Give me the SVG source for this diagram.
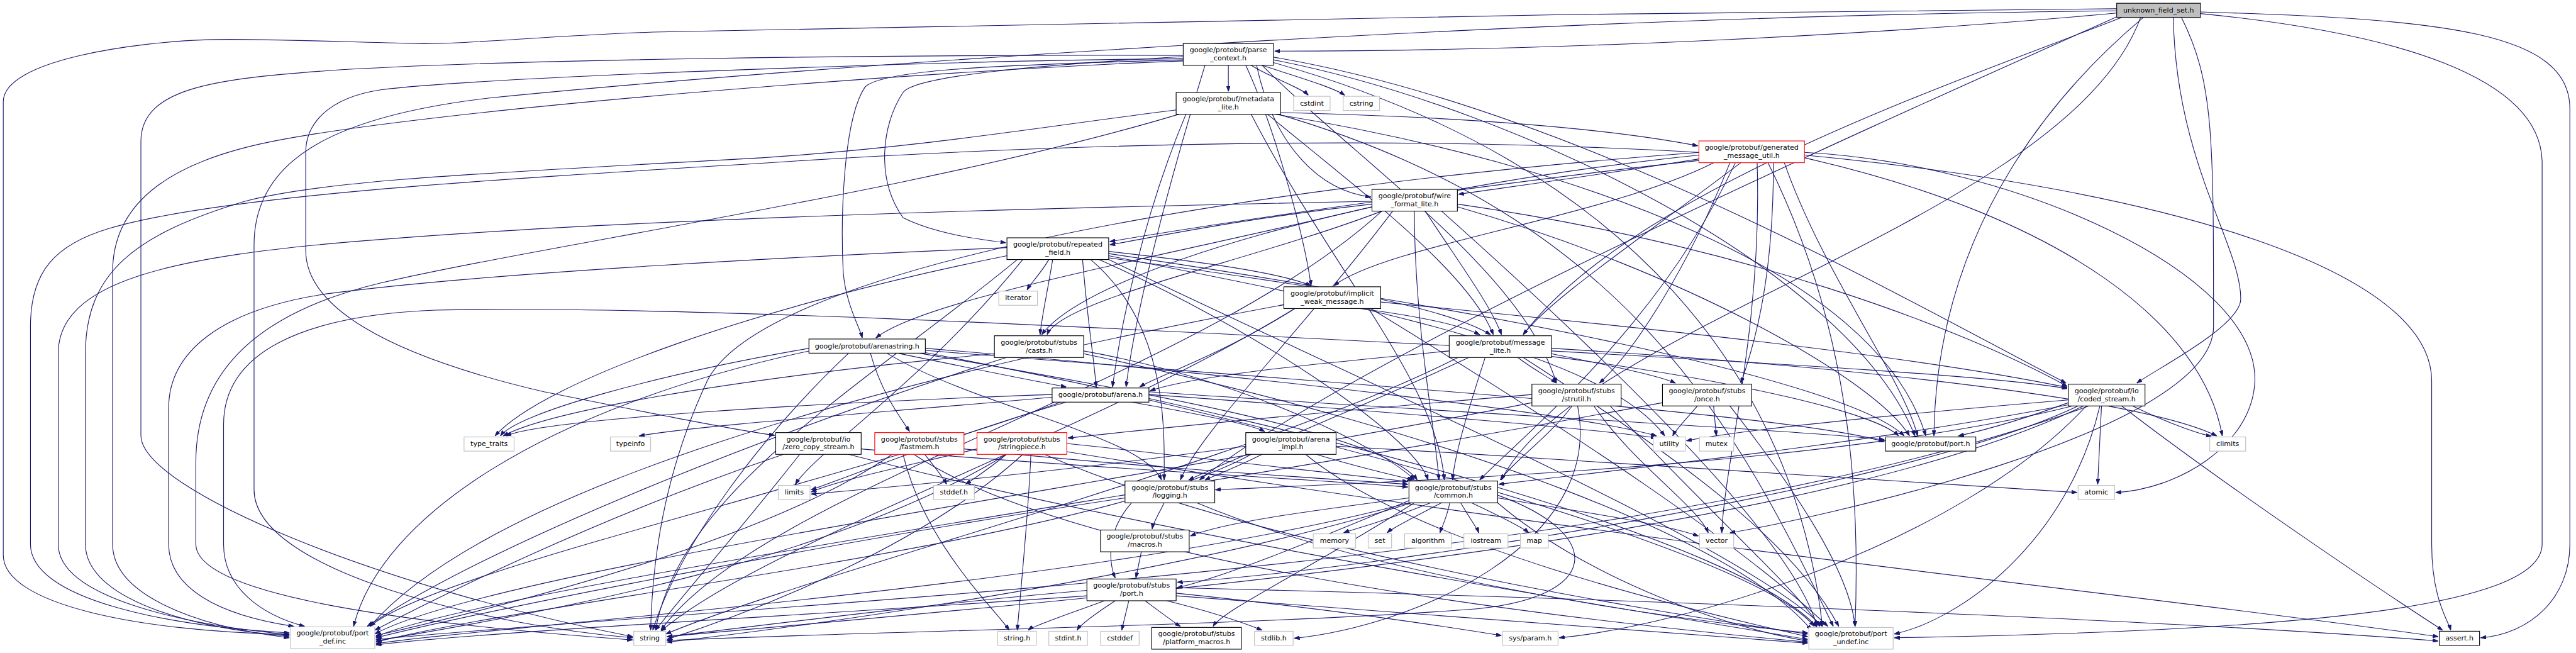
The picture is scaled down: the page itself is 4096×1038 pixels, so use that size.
<svg xmlns="http://www.w3.org/2000/svg" width="4096" height="1038" viewBox="0 0 4096 1038">
<defs>
<style>
.e{fill:none;stroke:#191970;stroke-width:1.3;marker-end:url(#a)}
.n rect{fill:#fff;stroke:#000;stroke-width:1.3}
.u rect{stroke:#bfbfbf}
.r rect{stroke:#ff0000}
.root rect{fill:#bfbfbf}
text{font-family:"DejaVu Sans","Liberation Sans",sans-serif;font-size:12.8px;text-anchor:middle;fill:#000}
</style>
<marker id="a" markerWidth="10" markerHeight="7" refX="10" refY="3.5" orient="auto" markerUnits="userSpaceOnUse"><path d="M0,0 L10,3.5 L0,7 z" fill="#191970" stroke="#191970" stroke-width="1"/></marker>
</defs>
<rect x="0" y="0" width="4096" height="1038" fill="#fff"/>
<g transform="scale(0.865)">
<g id="edges">
<!-- root -->
<path class="e" d="M3891,24 C3500,60 2900,94 2343,94"/>
<path class="e" d="M3891,16 C3000,22 1600,45 1200,59 C1000,66 850,82 765,80 C600,76 450,70 383,73 C250,77 6,110 6,187 L6,1020 C6,1110 250,1160 532,1166"/>
<path class="e" d="M3891,20 C2800,30 1500,120 900,180 C600,215 467,300 467,450 L467,900 C467,1050 900,1150 1163,1172"/>
<path class="e" d="M3935,32 C3800,400 2900,600 2760,882"/>
<path class="e" d="M3893,30 C3400,250 2500,650 2205,882"/>
<path class="e" d="M3995,32 C4000,300 4119,450 4119,549 C4119,600 3960,680 3928,704"/>
<path class="e" d="M3900,32 C3600,150 3000,350 2800,615"/>
<path class="e" d="M3940,32 C3800,150 3560,400 3555,801"/>
<path class="e" d="M4010,32 C4069,150 4069,250 4069,600 C4069,800 3300,960 3180,979"/>
<path class="e" d="M4045,22 C4500,35 4724,60 4724,200 L4724,1000 C4724,1100 4650,1165 4560,1172"/>
<path class="e" d="M4045,25 C4400,60 4673,140 4673,300 L4673,1000 C4673,1120 4200,1160 3482,1172"/>
<!-- parse -->
<path class="e" d="M2258,120 L2258,168"/>
<path class="e" d="M2300,120 C2330,140 2390,160 2405,175"/>
<path class="e" d="M2320,120 C2380,140 2450,160 2472,175"/>
<path class="e" d="M2175,104 C1900,120 1680,140 1660,170 C1620,230 1610,330 1660,400 C1720,430 1800,440 1849,446"/>
<path class="e" d="M2175,102 C1600,100 900,110 600,130 C400,145 259,160 259,260 L259,800 C259,900 700,1080 1163,1170"/>
<path class="e" d="M2175,108 C1800,110 900,140 700,165 C600,180 562,230 562,280 L562,460 C562,560 700,650 1000,720 C1200,760 1350,790 1424,800"/>
<path class="e" d="M2215,120 C2160,300 2090,550 2070,711"/>
<path class="e" d="M2175,110 C1800,120 1620,130 1590,160 C1550,220 1545,400 1550,500 C1555,560 1580,600 1585,621"/>
<path class="e" d="M2290,120 C2350,250 2400,450 2410,525"/>
<path class="e" d="M2310,120 C2340,260 2420,350 2520,362"/>
<path class="e" d="M2341,105 C2900,200 3500,550 3798,704"/>
<path class="e" d="M2320,120 C2500,300 2800,500 2861,704"/>
<path class="e" d="M2341,110 C2800,200 3400,500 3520,801"/>
<path class="e" d="M2175,112 C1700,130 800,200 500,260 C300,300 207,380 207,500 L207,1000 C207,1090 350,1150 532,1172"/>
<path class="e" d="M2341,115 C3000,300 3300,700 3350,1151"/>
<!-- meta -->
<path class="e" d="M2354,207 C2700,215 2950,235 3121,268"/>
<path class="e" d="M2162,202 C1900,235 1700,270 1400,290 C900,318 600,330 450,370 C250,430 157,500 157,650 L157,1000 C157,1100 350,1155 532,1169"/>
<path class="e" d="M2300,210 C2450,500 2640,700 2655,882"/>
<path class="e" d="M2180,210 C2100,400 2060,600 2045,711"/>
<path class="e" d="M2330,210 C2500,350 2700,500 2745,615"/>
<path class="e" d="M2345,210 C2900,300 3450,500 3540,801"/>
<path class="e" d="M2350,210 C3000,400 3200,800 3370,1151"/>
<path class="e" d="M2167,210 C1700,350 1000,450 700,520 C450,580 360,700 360,850 L360,1000 C360,1100 800,1150 1163,1176"/>
<!-- gmu -->
<path class="e" d="M3123,292 C2950,320 2800,340 2681,357"/>
<path class="e" d="M3123,295 C2800,330 2300,400 2040,444"/>
<path class="e" d="M3150,299 C2950,400 2550,450 2452,525"/>
<path class="e" d="M3200,299 C3000,450 2850,550 2800,615"/>
<path class="e" d="M3260,299 C3260,500 3230,620 3200,704"/>
<path class="e" d="M3180,299 C3100,500 3000,650 2940,704"/>
<path class="e" d="M3123,285 C2500,350 2000,500 1915,615"/>
<path class="e" d="M3280,299 C3350,500 3500,700 3525,801"/>
<path class="e" d="M3190,299 C3050,600 2800,800 2720,882"/>
<path class="e" d="M3230,299 C3240,600 3170,850 3165,979"/>
<path class="e" d="M3317,290 C3800,400 4050,600 4085,801"/>
<path class="e" d="M3317,280 C3700,300 4150,500 4145,700 C4140,820 4000,900 3889,905"/>
<path class="e" d="M3317,285 C4000,350 4470,500 4470,700 L4470,1000 C4470,1100 4500,1140 4505,1158"/>
<path class="e" d="M3123,280 C2200,350 1400,500 1300,700 C1230,850 1200,1000 1196,1158"/>
<path class="e" d="M3123,280 C2600,250 2000,260 1400,300 C900,330 400,360 200,420 C100,450 56,500 56,600 L56,1000 C56,1100 300,1150 532,1163"/>
<path class="e" d="M3250,299 C3400,600 3420,900 3410,1151"/>
<!-- wfl -->
<path class="e" d="M2522,375 C2300,400 2150,430 2040,450"/>
<path class="e" d="M2620,388 C2680,480 2740,560 2760,615"/>
<path class="e" d="M2679,375 C3200,450 3600,600 3800,710"/>
<path class="e" d="M2600,388 C2600,600 2640,800 2645,882"/>
<path class="e" d="M2560,388 C2400,600 2200,800 2170,882"/>
<path class="e" d="M2522,380 C2100,480 1700,550 1610,621"/>
<path class="e" d="M2540,388 C2300,480 1950,550 1925,615"/>
<path class="e" d="M2679,380 C3100,500 3450,700 3510,801"/>
<path class="e" d="M2540,388 C2200,700 1400,900 1215,1158"/>
<path class="e" d="M2522,370 C2000,380 1200,400 700,440 C300,470 107,520 107,650 L107,1000 C107,1100 350,1150 532,1166"/>
<path class="e" d="M2650,388 C3000,700 3300,1000 3340,1151"/>
<!-- rf -->
<path class="e" d="M1928,477 C1915,500 1895,520 1888,533"/>
<path class="e" d="M2038,462 C2200,480 2350,500 2410,525"/>
<path class="e" d="M2038,466 C2400,520 2650,560 2740,615"/>
<path class="e" d="M1990,477 C2000,600 2010,650 2015,711"/>
<path class="e" d="M1935,477 C1925,540 1915,580 1912,615"/>
<path class="e" d="M2005,477 C2150,600 2140,800 2140,882"/>
<path class="e" d="M2020,477 C2300,600 2600,800 2625,882"/>
<path class="e" d="M2038,470 C2500,560 2950,650 3060,801"/>
<path class="e" d="M2038,474 C2700,560 3400,700 3500,801"/>
<path class="e" d="M1880,477 C1700,700 1500,830 1462,890"/>
<path class="e" d="M1851,470 C1400,560 1000,700 910,801"/>
<path class="e" d="M1870,477 C1600,700 1250,900 1205,1158"/>
<path class="e" d="M1851,455 C1500,470 900,500 600,540 C400,570 310,650 310,750 L310,1000 C310,1080 400,1130 540,1151"/>
<path class="e" d="M2038,477 C2500,700 3200,1000 3350,1151"/>
<!-- iwm -->
<path class="e" d="M2380,567 C2250,650 2130,690 2095,711"/>
<path class="e" d="M2500,567 C2600,580 2680,595 2720,615"/>
<path class="e" d="M2538,555 C3000,600 3500,650 3800,712"/>
<path class="e" d="M2380,567 C2000,800 1400,1000 1215,1160"/>
<path class="e" d="M2360,560 C1600,700 900,900 680,1151"/>
<path class="e" d="M2520,567 C2900,800 3200,1000 3360,1151"/>
<!-- arenastring -->
<path class="e" d="M1600,649 C1620,720 1650,760 1672,793"/>
<path class="e" d="M1650,649 C1800,680 1900,700 1960,711"/>
<path class="e" d="M1630,649 C1800,750 2100,800 2135,882"/>
<path class="e" d="M1690,649 C2100,720 2550,800 2605,882"/>
<path class="e" d="M1701,640 C2300,690 2900,760 3045,801"/>
<path class="e" d="M1701,644 C2400,700 3300,760 3464,812"/>
<path class="e" d="M1487,640 C1200,690 950,760 920,801"/>
<path class="e" d="M1560,649 C1400,800 1250,1000 1200,1158"/>
<path class="e" d="M1487,645 C1000,750 700,950 650,1151"/>
<path class="e" d="M1701,648 C2500,800 3200,1000 3340,1152"/>
<!-- casts -->
<path class="e" d="M1992,645 C2300,700 2550,830 2600,882"/>
<path class="e" d="M1828,650 C1300,700 1000,760 925,801"/>
<path class="e" d="M1850,657 C1400,800 900,1000 675,1151"/>
<path class="e" d="M1992,650 C2700,800 3200,1000 3330,1158"/>
<!-- message_lite -->
<path class="e" d="M2664,645 C2400,670 2200,690 2114,718"/>
<path class="e" d="M2790,657 C2820,680 2850,695 2861,704"/>
<path class="e" d="M2852,650 C2950,670 3050,690 3080,704"/>
<path class="e" d="M2852,645 C3300,670 3650,690 3800,714"/>
<path class="e" d="M2852,640 C3500,680 3950,740 4075,801"/>
<path class="e" d="M2730,657 C2700,750 2675,830 2670,882"/>
<path class="e" d="M2700,657 C2500,750 2250,850 2185,882"/>
<path class="e" d="M2852,655 C3200,700 3450,760 3490,801"/>
<path class="e" d="M2680,657 C2300,850 1500,1050 1224,1165"/>
<path class="e" d="M2664,635 C2000,600 1200,560 800,570 C550,580 411,650 411,780 L411,1000 C411,1080 480,1130 560,1151"/>
<path class="e" d="M2800,657 C3100,850 3300,1000 3380,1151"/>
<!-- arena -->
<path class="e" d="M2080,739 C2200,760 2300,780 2325,793"/>
<path class="e" d="M1960,739 C1750,800 1550,880 1491,900"/>
<path class="e" d="M1934,730 C1600,760 1300,780 1175,801"/>
<path class="e" d="M1934,725 C1500,740 1000,770 930,801"/>
<path class="e" d="M2112,725 C2600,760 2950,790 3045,805"/>
<path class="e" d="M2112,720 C2700,760 3300,790 3464,808"/>
<path class="e" d="M1950,739 C1500,900 800,1050 680,1151"/>
<path class="e" d="M2112,735 C2800,900 3250,1050 3335,1151"/>
<!-- strutil -->
<path class="e" d="M2816,725 C2400,760 2100,790 1963,805"/>
<path class="e" d="M2890,746 C2850,800 2780,850 2758,882"/>
<path class="e" d="M2930,746 C3000,850 3120,930 3140,979"/>
<path class="e" d="M2900,746 C2950,1000 2600,1150 2379,1173"/>
<path class="e" d="M2816,740 C2000,900 900,1050 689,1165"/>
<path class="e" d="M2960,746 C3150,950 3300,1080 3345,1151"/>
<!-- once -->
<path class="e" d="M3120,746 C3100,770 3080,790 3075,801"/>
<path class="e" d="M3150,746 C3152,770 3154,790 3155,801"/>
<path class="e" d="M3056,740 C2200,900 900,1080 691,1170"/>
<path class="e" d="M3180,746 C3300,900 3400,1050 3410,1151"/>
<!-- coded -->
<path class="e" d="M3863,746 L3856,890"/>
<path class="e" d="M3920,746 C3990,780 4050,800 4065,801"/>
<path class="e" d="M3802,740 C3720,770 3650,790 3600,801"/>
<path class="e" d="M3900,746 C4100,900 4400,1100 4490,1158"/>
<path class="e" d="M3802,744 C3400,820 3000,860 2755,890"/>
<path class="e" d="M3810,746 C3400,850 2700,880 2234,900"/>
<path class="e" d="M3820,746 C3500,900 2500,1050 2164,1070"/>
<path class="e" d="M3830,746 C3300,1000 2000,1100 1226,1170"/>
<path class="e" d="M3840,746 C3000,1050 1500,1100 691,1175"/>
<path class="e" d="M3860,746 C3800,1000 3600,1140 3482,1165"/>
<path class="e" d="M3835,746 C3600,1000 3100,1150 2866,1172"/>
<path class="e" d="M3802,735 C3500,760 3200,790 3100,810"/>
<!-- arena_impl -->
<path class="e" d="M2456,820 C3000,850 3600,890 3818,905"/>
<path class="e" d="M2290,820 C2000,860 1700,890 1491,908"/>
<path class="e" d="M2320,835 C2270,860 2230,875 2215,882"/>
<path class="e" d="M2420,835 C2500,860 2570,875 2597,882"/>
<path class="e" d="M2300,835 C2000,1000 1000,1100 691,1180"/>
<path class="e" d="M2400,835 C2600,1000 3100,1120 3323,1170"/>
<!-- zcs -->
<path class="e" d="M1583,825 C2000,860 2400,880 2588,895"/>
<path class="e" d="M1470,835 C1380,950 1250,1100 1205,1158"/>
<path class="e" d="M1440,835 C1100,950 800,1100 689,1158"/>
<path class="e" d="M1560,835 C2200,1000 3000,1120 3323,1175"/>
<!-- fastmem -->
<path class="e" d="M1700,835 C1720,860 1735,880 1740,890"/>
<path class="e" d="M1660,835 C1700,1000 1830,1120 1855,1158"/>
<path class="e" d="M1772,825 C2100,860 2450,880 2588,890"/>
<path class="e" d="M1640,835 C1400,1000 900,1120 691,1168"/>
<path class="e" d="M1680,835 C2000,1050 3000,1150 3323,1180"/>
<!-- stringpiece -->
<path class="e" d="M1850,835 C1820,860 1790,880 1775,890"/>
<path class="e" d="M1796,825 C1650,860 1550,880 1491,904"/>
<path class="e" d="M1895,835 C1890,950 1875,1100 1870,1158"/>
<path class="e" d="M1880,835 C1700,1000 1400,1120 1226,1175"/>
<path class="e" d="M1961,815 C2200,840 2450,870 2588,885"/>
<path class="e" d="M1961,830 C3000,1000 4000,1100 4482,1170"/>
<path class="e" d="M1850,835 C1500,1050 900,1140 691,1178"/>
<path class="e" d="M1920,835 C2300,1000 3000,1120 3323,1165"/>
<!-- logging -->
<path class="e" d="M2140,924 C2130,945 2120,960 2118,972"/>
<path class="e" d="M2080,924 C2030,980 2040,1040 2050,1062"/>
<path class="e" d="M2068,915 C1500,1000 900,1120 691,1172"/>
<path class="e" d="M2200,924 C2500,1050 3000,1130 3323,1163"/>
<!-- common -->
<path class="e" d="M2630,924 C2540,960 2480,975 2470,979"/>
<path class="e" d="M2650,924 C2600,950 2560,970 2550,979"/>
<path class="e" d="M2665,924 C2660,950 2650,970 2647,979"/>
<path class="e" d="M2685,924 C2700,950 2715,970 2718,979"/>
<path class="e" d="M2705,924 C2760,950 2800,970 2810,979"/>
<path class="e" d="M2753,915 C2900,940 3050,960 3122,985"/>
<path class="e" d="M2590,915 C2400,940 2250,960 2188,985"/>
<path class="e" d="M2600,924 C2400,1050 2250,1120 2230,1151"/>
<path class="e" d="M2590,920 C2400,1000 2250,1060 2164,1080"/>
<path class="e" d="M2595,924 C2200,1050 1500,1150 1226,1180"/>
<path class="e" d="M2590,924 C2000,1080 900,1150 691,1183"/>
<path class="e" d="M2753,924 C2900,1050 3150,1150 3323,1178"/>
<path class="e" d="M2753,910 C2950,980 2950,1100 2700,1120 C2300,1150 1600,1160 1226,1177"/>
<!-- macros -->
<path class="e" d="M2098,1014 L2088,1062"/>
<!-- stubs port -->
<path class="e" d="M2030,1104 C1960,1130 1900,1150 1890,1158"/>
<path class="e" d="M2050,1104 C2010,1130 1985,1150 1980,1158"/>
<path class="e" d="M2075,1104 L2062,1158"/>
<path class="e" d="M2105,1104 C2140,1130 2160,1145 2170,1151"/>
<path class="e" d="M2145,1104 C2250,1130 2300,1150 2320,1158"/>
<path class="e" d="M2162,1090 C2450,1120 2650,1150 2760,1168"/>
<path class="e" d="M1998,1085 C1700,1110 1400,1150 1226,1170"/>
<path class="e" d="M1998,1095 C1500,1130 900,1160 691,1185"/>
<path class="e" d="M2162,1095 C2600,1130 3000,1160 3323,1182"/>
<path class="e" d="M2162,1080 C3000,1100 4000,1140 4482,1178"/>
</g>
<g id="node-root" class="n root"><rect x="3891" y="6" width="154" height="26"/><text x="3968" y="23">unknown_field_set.h</text></g>
<g id="node-parse" class="n"><rect x="2175" y="80" width="166" height="40"/><text x="2258" y="96">google/protobuf/parse</text><text x="2258" y="111">_context.h</text></g>
<g id="node-metadata" class="n"><rect x="2162" y="170" width="192" height="40"/><text x="2258" y="186">google/protobuf/metadata</text><text x="2258" y="201">_lite.h</text></g>
<g id="node-cstdint" class="n u"><rect x="2378" y="177" width="67" height="26"/><text x="2411.5" y="194">cstdint</text></g>
<g id="node-cstring" class="n u"><rect x="2469" y="177" width="67" height="26"/><text x="2502.5" y="194">cstring</text></g>
<g id="node-gmu" class="n r"><rect x="3123" y="259" width="194" height="40"/><text x="3220" y="275">google/protobuf/generated</text><text x="3220" y="290">_message_util.h</text></g>
<g id="node-wfl" class="n"><rect x="2522" y="348" width="157" height="40"/><text x="2600.5" y="364">google/protobuf/wire</text><text x="2600.5" y="379">_format_lite.h</text></g>
<g id="node-rf" class="n"><rect x="1851" y="437" width="187" height="40"/><text x="1944.5" y="453">google/protobuf/repeated</text><text x="1944.5" y="468">_field.h</text></g>
<g id="node-iterator" class="n u"><rect x="1836" y="535" width="71" height="26"/><text x="1871.5" y="552">iterator</text></g>
<g id="node-iwm" class="n"><rect x="2360" y="527" width="178" height="40"/><text x="2449" y="543">google/protobuf/implicit</text><text x="2449" y="558">_weak_message.h</text></g>
<g id="node-arenastring" class="n"><rect x="1487" y="623" width="214" height="26"/><text x="1594" y="640">google/protobuf/arenastring.h</text></g>
<g id="node-casts" class="n"><rect x="1828" y="617" width="164" height="40"/><text x="1910" y="633">google/protobuf/stubs</text><text x="1910" y="648">/casts.h</text></g>
<g id="node-message_lite" class="n"><rect x="2664" y="617" width="188" height="40"/><text x="2758" y="633">google/protobuf/message</text><text x="2758" y="648">_lite.h</text></g>
<g id="node-arena" class="n"><rect x="1934" y="713" width="178" height="26"/><text x="2023" y="730">google/protobuf/arena.h</text></g>
<g id="node-strutil" class="n"><rect x="2816" y="706" width="164" height="40"/><text x="2898" y="722">google/protobuf/stubs</text><text x="2898" y="737">/strutil.h</text></g>
<g id="node-once" class="n"><rect x="3056" y="706" width="164" height="40"/><text x="3138" y="722">google/protobuf/stubs</text><text x="3138" y="737">/once.h</text></g>
<g id="node-coded" class="n"><rect x="3802" y="706" width="141" height="40"/><text x="3872.5" y="722">google/protobuf/io</text><text x="3872.5" y="737">/coded_stream.h</text></g>
<g id="node-type_traits" class="n u"><rect x="853" y="803" width="92" height="26"/><text x="899" y="820">type_traits</text></g>
<g id="node-typeinfo" class="n u"><rect x="1122" y="803" width="74" height="26"/><text x="1159" y="820">typeinfo</text></g>
<g id="node-utility" class="n u"><rect x="3039" y="803" width="59" height="26"/><text x="3068.5" y="820">utility</text></g>
<g id="node-mutex" class="n u"><rect x="3124" y="803" width="63" height="26"/><text x="3155.5" y="820">mutex</text></g>
<g id="node-port" class="n"><rect x="3466" y="803" width="166" height="26"/><text x="3549" y="820">google/protobuf/port.h</text></g>
<g id="node-climits" class="n u"><rect x="4062" y="803" width="66" height="26"/><text x="4095" y="820">climits</text></g>
<g id="node-zcs" class="n"><rect x="1426" y="795" width="157" height="40"/><text x="1504.5" y="811">google/protobuf/io</text><text x="1504.5" y="826">/zero_copy_stream.h</text></g>
<g id="node-fastmem" class="n r"><rect x="1608" y="795" width="164" height="40"/><text x="1690" y="811">google/protobuf/stubs</text><text x="1690" y="826">/fastmem.h</text></g>
<g id="node-stringpiece" class="n r"><rect x="1796" y="795" width="165" height="40"/><text x="1878.5" y="811">google/protobuf/stubs</text><text x="1878.5" y="826">/stringpiece.h</text></g>
<g id="node-arena_impl" class="n"><rect x="2290" y="795" width="166" height="40"/><text x="2373" y="811">google/protobuf/arena</text><text x="2373" y="826">_impl.h</text></g>
<g id="node-limits" class="n u"><rect x="1431" y="892" width="58" height="26"/><text x="1460" y="909">limits</text></g>
<g id="node-stddef" class="n u"><rect x="1716" y="892" width="75" height="26"/><text x="1753.5" y="909">stddef.h</text></g>
<g id="node-logging" class="n"><rect x="2068" y="884" width="165" height="40"/><text x="2150.5" y="900">google/protobuf/stubs</text><text x="2150.5" y="915">/logging.h</text></g>
<g id="node-common" class="n"><rect x="2590" y="884" width="163" height="40"/><text x="2671.5" y="900">google/protobuf/stubs</text><text x="2671.5" y="915">/common.h</text></g>
<g id="node-atomic" class="n u"><rect x="3820" y="892" width="67" height="26"/><text x="3853.5" y="909">atomic</text></g>
<g id="node-memory" class="n u"><rect x="2414" y="981" width="78" height="26"/><text x="2453" y="998">memory</text></g>
<g id="node-set" class="n u"><rect x="2515" y="981" width="43" height="26"/><text x="2536.5" y="998">set</text></g>
<g id="node-algorithm" class="n u"><rect x="2582" y="981" width="86" height="26"/><text x="2625" y="998">algorithm</text></g>
<g id="node-iostream" class="n u"><rect x="2691" y="981" width="81" height="26"/><text x="2731.5" y="998">iostream</text></g>
<g id="node-map" class="n u"><rect x="2795" y="981" width="51" height="26"/><text x="2820.5" y="998">map</text></g>
<g id="node-vector" class="n u"><rect x="3124" y="981" width="63" height="26"/><text x="3155.5" y="998">vector</text></g>
<g id="node-macros" class="n"><rect x="2023" y="974" width="163" height="40"/><text x="2104.5" y="990">google/protobuf/stubs</text><text x="2104.5" y="1005">/macros.h</text></g>
<g id="node-stubs_port" class="n"><rect x="1998" y="1064" width="164" height="40"/><text x="2080" y="1080">google/protobuf/stubs</text><text x="2080" y="1095">/port.h</text></g>
<g id="node-port_def" class="n u"><rect x="534" y="1152" width="155" height="40"/><text x="611.5" y="1168">google/protobuf/port</text><text x="611.5" y="1183">_def.inc</text></g>
<g id="node-string" class="n u"><rect x="1165" y="1160" width="59" height="26"/><text x="1194.5" y="1177">string</text></g>
<g id="node-string_h" class="n u"><rect x="1834" y="1160" width="71" height="26"/><text x="1869.5" y="1177">string.h</text></g>
<g id="node-stdint_h" class="n u"><rect x="1928" y="1160" width="71" height="26"/><text x="1963.5" y="1177">stdint.h</text></g>
<g id="node-cstddef" class="n u"><rect x="2023" y="1160" width="71" height="26"/><text x="2058.5" y="1177">cstddef</text></g>
<g id="node-platform" class="n"><rect x="2117" y="1153" width="165" height="40"/><text x="2199.5" y="1169">google/protobuf/stubs</text><text x="2199.5" y="1184">/platform_macros.h</text></g>
<g id="node-stdlib" class="n u"><rect x="2306" y="1160" width="71" height="26"/><text x="2341.5" y="1177">stdlib.h</text></g>
<g id="node-sysparam" class="n u"><rect x="2762" y="1160" width="102" height="26"/><text x="2813" y="1177">sys/param.h</text></g>
<g id="node-port_undef" class="n u"><rect x="3325" y="1153" width="155" height="40"/><text x="3402.5" y="1169">google/protobuf/port</text><text x="3402.5" y="1184">_undef.inc</text></g>
<g id="node-assert" class="n"><rect x="4484" y="1160" width="74" height="26"/><text x="4521" y="1177">assert.h</text></g>
</g>
</svg>
